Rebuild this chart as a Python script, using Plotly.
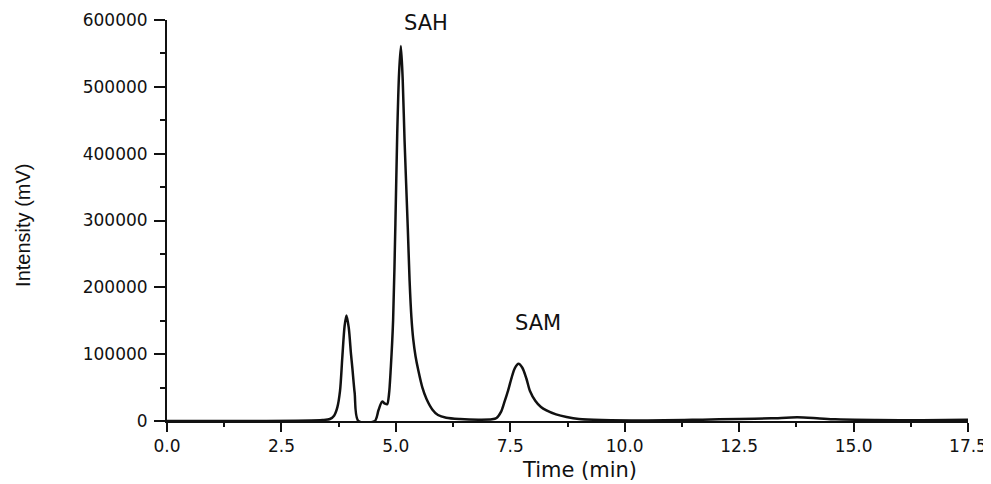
import plotly.graph_objects as go

# Chromatogram
time_min = [0, 2.0, 3.4, 3.56, 3.65, 3.72, 3.78, 3.83, 3.88, 3.92, 3.97, 4.02, 4.05, 4.10, 4.18,
            4.54, 4.62, 4.70, 4.76, 4.81, 4.85, 4.89, 4.94, 4.99, 5.03, 5.07, 5.11, 5.15, 5.19,
            5.26, 5.30, 5.34, 5.38, 5.43, 5.49, 5.58, 5.67, 5.8, 5.92, 6.1, 6.4, 6.8, 7.1, 7.2,
            7.3, 7.38, 7.45, 7.53, 7.6, 7.68, 7.76, 7.85, 7.93, 8.05, 8.17, 8.29, 8.5, 8.73,
            9.0, 9.5, 10.5, 11.7, 12.5, 13.2, 13.77, 14.2, 14.6, 15.5, 16.5, 17.5]
intensity = [0, 0, 1500, 3000, 8000, 20000, 45000, 95000, 142000, 158000, 140000, 100000, 79000,
             42000, 0, 0, 16000, 29000, 26000, 25000, 40000, 80000, 151000, 295000, 430000,
             520000, 561000, 510000, 420000, 290000, 210000, 155000, 122000, 97000, 76000,
             50000, 33000, 17000, 9000, 5000, 3000, 2000, 2500, 4500, 14000, 30000, 45000,
             65000, 79000, 85500, 80000, 64000, 45000, 30000, 21000, 16000, 10000, 6000, 3000,
             1500, 800, 2000, 3000, 4000, 5500, 4200, 2500, 1500, 1200, 1800]

peak_labels = ["SAH", "SAM"]
peak_label_x = [5.66, 8.11]
peak_label_y = [596000, 146800]

x_tick_vals = [0, 2.5, 5.0, 7.5, 10.0, 12.5, 15.0, 17.5]
x_tick_text = ["0.0", "2.5", "5.0", "7.5", "10.0", "12.5", "15.0", "17.5"]
y_tick_vals = [0, 100000, 200000, 300000, 400000, 500000, 600000]
y_tick_text = ["0", "100000", "200000", "300000", "400000", "500000", "600000"]

TICK_FONT = dict(family="DejaVu Sans", size=17, color="#111")

fig = go.Figure()
fig.add_trace(go.Scatter(
    x=time_min, y=intensity, mode="lines",
    line=dict(color="#111", width=2.5, shape="spline", smoothing=0.8),
    hoverinfo="skip", showlegend=False,
))

for t, xv, yv in zip(peak_labels, peak_label_x, peak_label_y):
    fig.add_annotation(x=xv, y=yv, xref="x", yref="y", text=t, showarrow=False,
                       font=dict(family="DejaVu Sans", size=21, color="#111"),
                       xanchor="center", yanchor="middle")

fig.add_annotation(x=0.5156, y=-0.122, xref="paper", yref="paper", text="Time (min)",
                   showarrow=False, font=dict(family="DejaVu Sans", size=21, color="#111"),
                   xanchor="center", yanchor="middle")
fig.add_annotation(x=-0.1798, y=0.489, xref="paper", yref="paper", text="Intensity (mV)",
                   showarrow=False, textangle=-90,
                   font=dict(family="Liberation Sans", size=20, color="#111"),
                   xanchor="center", yanchor="middle")

fig.update_xaxes(
    range=[0, 17.5], showgrid=False, zeroline=False, automargin=False,
    showline=True, linecolor="#111", linewidth=2,
    ticks="outside", ticklen=9, tickwidth=2, tickcolor="#111",
    tickvals=x_tick_vals, ticktext=x_tick_text, tickfont=TICK_FONT,
    minor=dict(dtick=1.25, tick0=0, ticks="outside", ticklen=4, tickwidth=2, tickcolor="#111"),
)
fig.update_yaxes(
    range=[0, 600000], showgrid=False, zeroline=False, automargin=False,
    showline=True, linecolor="#111", linewidth=2,
    ticks="outside", ticklen=11, tickwidth=2, tickcolor="#111", ticklabelstandoff=3,
    tickvals=y_tick_vals, ticktext=y_tick_text, tickfont=TICK_FONT,
    minor=dict(dtick=50000, tick0=0, ticks="outside", ticklen=5, tickwidth=2, tickcolor="#111"),
)

# The page body adds an 8 px offset; size and margins compensate for it.
fig.update_layout(
    width=983, height=476,
    margin=dict(l=159, r=23, t=12, b=63),
    paper_bgcolor="white", plot_bgcolor="white",
)

fig.write_html("out.html")
